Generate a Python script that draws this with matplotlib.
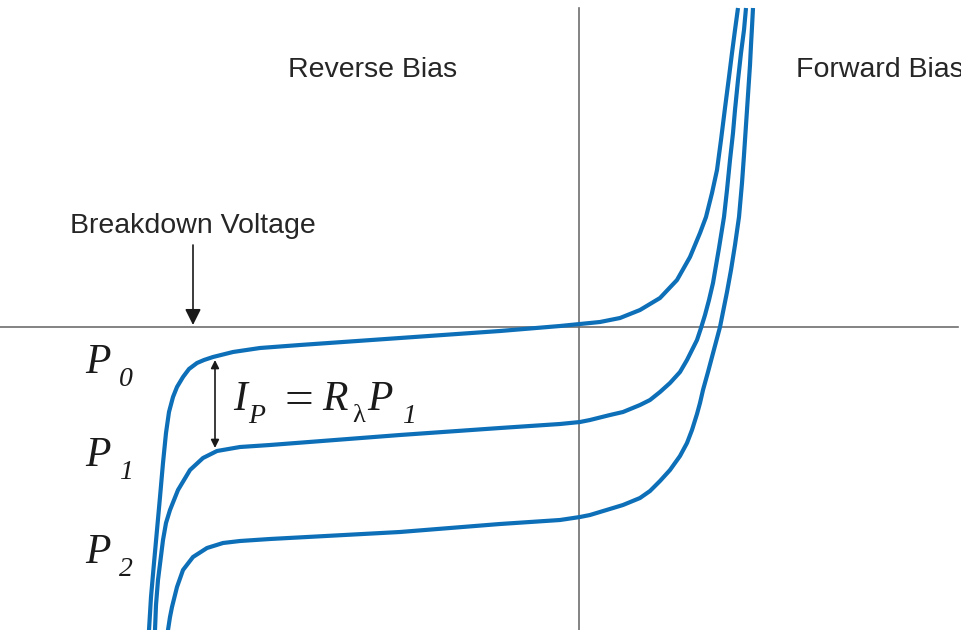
import matplotlib
matplotlib.use("Agg")
import matplotlib.pyplot as plt

plt.rcParams['font.family'] = ['Liberation Sans', 'DejaVu Sans']

""" Curves read off the picture (arbitrary units, origin at the axes crossing) """
v_p0 = [-4.32, -4.30, -4.28, -4.25, -4.22, -4.19, -4.16, -4.13, -4.10, -4.06,
        -4.02, -3.96, -3.90, -3.82, -3.75, -3.66, -3.46, -3.19, -2.79, -1.79,
        -0.79, -0.19, 0.01, 0.21, 0.41, 0.61, 0.81, 0.98, 1.11, 1.21,
        1.27, 1.33, 1.38, 1.42, 1.46, 1.50, 1.53, 1.56, 1.59]
i_p0 = [-3.18, -3.03, -2.70, -2.36, -2.03, -1.70, -1.36, -1.06, -0.85, -0.70,
        -0.60, -0.50, -0.42, -0.36, -0.33, -0.30, -0.25, -0.21, -0.18, -0.11,
        -0.04, 0.01, 0.03, 0.05, 0.09, 0.17, 0.29, 0.47, 0.70, 0.94,
        1.10, 1.34, 1.57, 1.87, 2.19, 2.50, 2.74, 2.97, 3.19]

v_p1 = [-4.26, -4.24, -4.23, -4.21, -4.16, -4.13, -4.09, -4.01, -3.89, -3.76,
        -3.62, -3.39, -3.09, -1.79, -0.79, -0.19, 0.01, 0.11, 0.31, 0.44,
        0.61, 0.71, 0.81, 0.91, 1.01, 1.08, 1.13, 1.18, 1.22, 1.26,
        1.30, 1.34, 1.40, 1.45, 1.48, 1.51, 1.54, 1.56, 1.59, 1.62,
        1.65, 1.67]
i_p1 = [-3.18, -3.03, -2.78, -2.53, -2.13, -1.96, -1.83, -1.63, -1.43, -1.31,
        -1.24, -1.20, -1.18, -1.08, -1.01, -0.97, -0.95, -0.93, -0.88, -0.85,
        -0.78, -0.73, -0.65, -0.56, -0.45, -0.33, -0.23, -0.13, -0.01, 0.12,
        0.27, 0.44, 0.79, 1.10, 1.37, 1.67, 1.94, 2.17, 2.47, 2.74,
        2.97, 3.19]

v_p2 = [-4.13, -4.11, -4.09, -4.07, -4.02, -3.96, -3.86, -3.72, -3.56, -3.39,
        -3.09, -1.79, -0.79, -0.19, 0.01, 0.11, 0.44, 0.61, 0.71, 0.81,
        0.91, 1.01, 1.08, 1.13, 1.18, 1.21, 1.24, 1.29, 1.33, 1.37,
        1.41, 1.44, 1.48, 1.52, 1.56, 1.60, 1.63, 1.65, 1.67, 1.69,
        1.71, 1.72, 1.73, 1.74]
i_p2 = [-3.18, -3.03, -2.90, -2.80, -2.60, -2.43, -2.30, -2.21, -2.16, -2.14,
        -2.12, -2.05, -1.97, -1.93, -1.90, -1.88, -1.78, -1.71, -1.64, -1.54,
        -1.43, -1.29, -1.16, -1.03, -0.87, -0.76, -0.63, -0.45, -0.30, -0.15,
        0.00, 0.15, 0.35, 0.57, 0.82, 1.10, 1.44, 1.72, 2.02, 2.32,
        2.62, 2.82, 3.00, 3.19]

curve_subs = ['0', '1', '2']
label_heights = [-0.46, -1.39, -2.36]
breakdown_v = -3.86

blue = '#0d6fb8'
grey = '#6e6e6e'
ink = '#1a1a1a'
serif = dict(family=['Liberation Serif', 'DejaVu Serif'], color=ink)

fig = plt.figure(figsize=(9.62, 6.30), dpi=100)
ax = fig.add_axes([0, 0, 1, 1])
ax.set_xlim(-5.79, 3.83)
ax.set_ylim(-3.03, 3.27)
ax.axis('off')

# axes cross
ax.axhline(0, xmin=0, xmax=0.996, color=grey, lw=1.2, zorder=1)
ax.axvline(0, ymin=0, ymax=0.987, color=grey, lw=1.2, zorder=1)

for v, i in [(v_p0, i_p0), (v_p1, i_p1), (v_p2, i_p2)]:
    ax.plot(v, i, color=blue, lw=3.0, solid_joinstyle='round',
            solid_capstyle='butt', zorder=3)

# P0 / P1 / P2 labels, subscript set a little lower like the original
for sub, h in zip(curve_subs, label_heights):
    ax.text(-4.94, h, 'P', fontsize=30, style='italic', va='baseline', **serif)
    ax.text(-4.60, h - 0.13, sub, fontsize=20, style='italic', va='baseline', **serif)

# I_P = R_lambda P_1
y0 = -0.83
ax.text(-3.46, y0, 'I', fontsize=30, style='italic', va='baseline', **serif)
ax.text(-3.31, y0 - 0.13, 'P', fontsize=20, style='italic', va='baseline', **serif)
ax.text(-2.94, y0 - 0.04, '=', fontsize=37, va='baseline', **serif)
ax.text(-2.57, y0, 'R', fontsize=30, style='italic', va='baseline', **serif)
ax.text(-2.27, y0 - 0.12, 'λ', fontsize=19, va='baseline', **serif)
ax.text(-2.12, y0, 'P', fontsize=30, style='italic', va='baseline', **serif)
ax.text(-1.77, y0 - 0.13, '1', fontsize=20, style='italic', va='baseline', **serif)

# photocurrent arrow between P0 and P1
ax.annotate('', xy=(-3.64, -1.21), xytext=(-3.64, -0.33),
            arrowprops=dict(arrowstyle='<|-|>', color=ink, lw=1.2,
                            mutation_scale=12, shrinkA=0, shrinkB=0))

ax.text(-2.06, 2.57, 'Reverse Bias', fontsize=20.5, ha='center', va='center',
        color='#262626')
ax.text(2.17, 2.57, 'Forward Bias', fontsize=20.5, ha='left', va='center',
        color='#262626')
ax.text(-5.09, 1.01, 'Breakdown Voltage', fontsize=20.5, ha='left', va='center',
        color='#262626')
ax.annotate('', xy=(breakdown_v, 0.02), xytext=(breakdown_v, 0.82),
            arrowprops=dict(arrowstyle='-|>', color=ink, lw=1.2,
                            mutation_scale=24, shrinkA=0, shrinkB=0))

fig.savefig('out.png', dpi=100, facecolor='white')
